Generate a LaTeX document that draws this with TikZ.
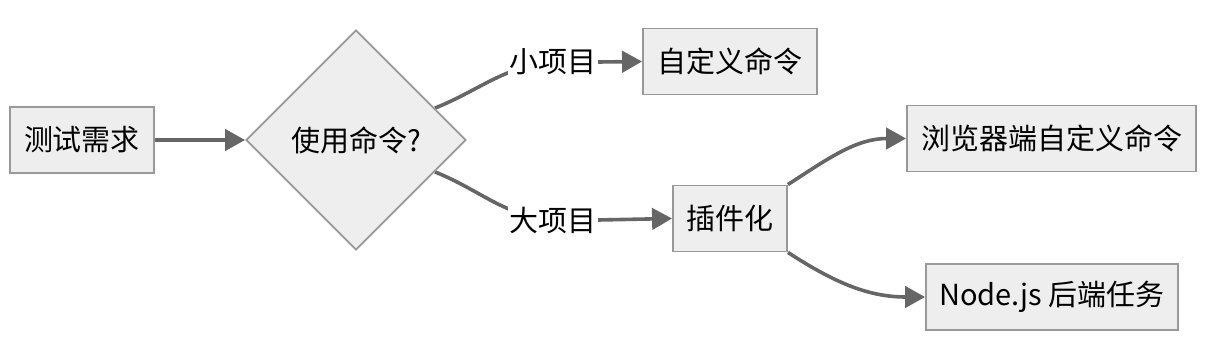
\documentclass[tikz,border=0pt]{standalone}
\usepackage{fontspec}
\setmainfont{Noto Sans CJK SC}
\usetikzlibrary{shapes.geometric,arrows.meta,backgrounds}
\definecolor{boxfill}{HTML}{EEEEEE}
\definecolor{boxline}{HTML}{999999}
\definecolor{edgecol}{HTML}{666666}
\begin{document}
\begin{tikzpicture}[x=0.75pt,y=-0.75pt,
  font=\fontsize{21.75pt}{26pt}\selectfont,
  box/.style={draw=boxline, fill=boxfill, line width=1.4pt, inner sep=0pt, minimum height=49.5pt},
  decision/.style={diamond, draw=boxline, fill=boxfill, line width=1.4pt, inner sep=0pt, minimum width=165pt, minimum height=165pt},
  elabel/.style={fill=white, inner sep=1pt},
  edge/.style={draw=edgecol, line width=2.7pt},
  arr/.style={edge, -{Triangle[length=15pt, width=16pt]}}
]
\useasboundingbox (0,0) rectangle (1208,356);
\node[box, minimum width=108pt] (a) at (82,140) {测试需求};
\node[decision] (b) at (356,140) {使用命令?};
\node[box, minimum width=130.5pt] (c) at (730,61.5) {自定义命令};
\node[box, minimum width=85.5pt] (d) at (730,218.5) {插件化};
\node[box, minimum width=216.75pt] (e) at (1051.5,138.5) {浏览器端自定义命令};
\node[box, minimum width=189pt] (f) at (1052,297) {Node.js 后端任务};
\node[elabel] (l1) at (553,62) {小项目};
\node[elabel] (l2) at (553,220) {大项目};
\begin{scope}[on background layer]
\draw[edge] (b.22) to[out=22, in=185] (l1.center);
\draw[edge] (b.-22) to[out=-22, in=175] (l2.center);
\end{scope}
\draw[arr] (a) -- (b);
\draw[arr] (l1.east) -- (c.west);
\draw[arr] (l2.east) -- (d.west);
\draw[arr] (d.north east) to[out=33, in=180] (e.west);
\draw[arr] (d.south east) to[out=-33, in=180] (f.west);
\end{tikzpicture}
\end{document}
